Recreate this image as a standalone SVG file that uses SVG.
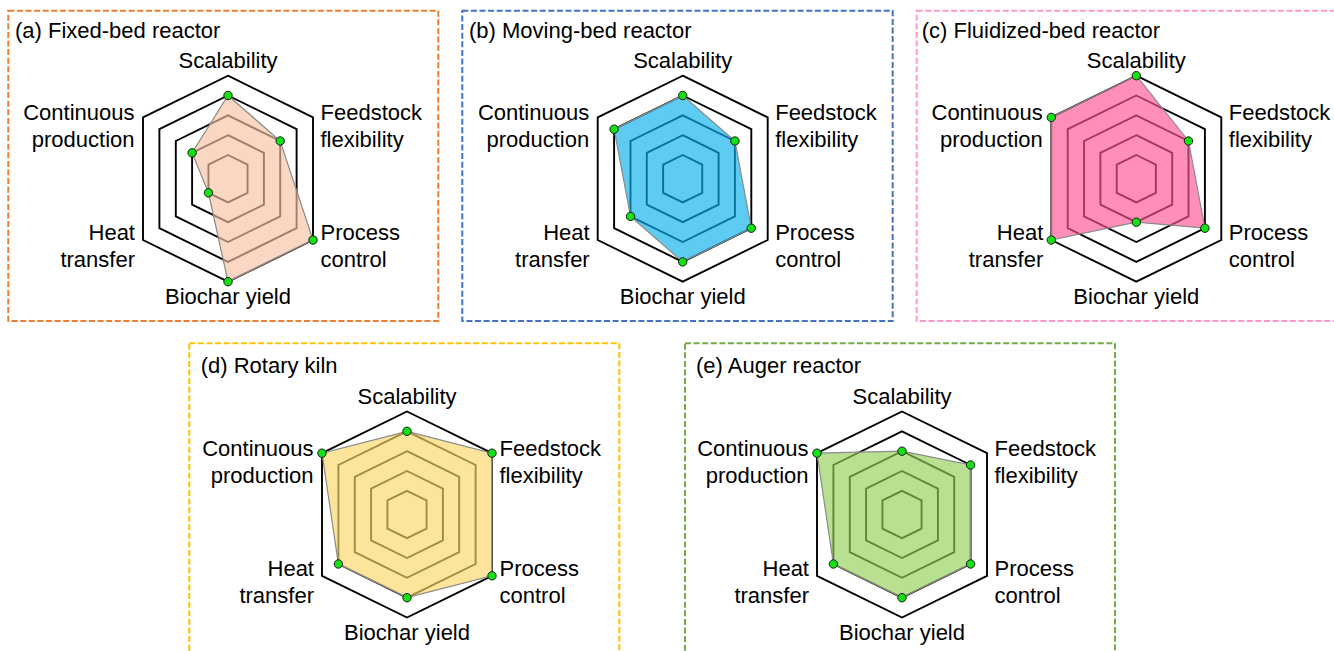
<svg xmlns="http://www.w3.org/2000/svg" xmlns:xlink="http://www.w3.org/1999/xlink" width="1334" height="651" viewBox="0 0 1334 651">
<style>
text{font-family:"Liberation Sans",Arial,sans-serif;font-size:22px;fill:#000}
.m{text-anchor:middle}.e{text-anchor:end}.s{text-anchor:start}
.ring{fill:none;stroke:#000;stroke-width:1.9;stroke-linejoin:miter}
.frame{fill:none;stroke-width:2;stroke-dasharray:6 2.6}
.data{stroke:#8a8a8a;stroke-width:1.2;fill-opacity:0.65}
.dot{fill:#14e014;stroke:#1a1a1a;stroke-width:1}
</style>
<defs>
<g id="grid">
<polygon class="ring" points="0,-23.7 19.55,-14.1 19.55,14.1 0,23.7 -19.55,14.1 -19.55,-14.1"/>
<polygon class="ring" points="0,-43.5 35.9,-25.9 35.9,25.9 0,43.5 -35.9,25.9 -35.9,-25.9"/>
<polygon class="ring" points="0,-63.3 52.2,-37.7 52.2,37.7 0,63.3 -52.2,37.7 -52.2,-37.7"/>
<polygon class="ring" points="0,-83.2 68.6,-49.5 68.6,49.5 0,83.2 -68.6,49.5 -68.6,-49.5"/>
<polygon class="ring" points="0,-103 85,-61.3 85,61.3 0,103 -85,61.3 -85,-61.3"/>
</g>
<g id="labels">
<text class="m" x="0" y="-111">Scalability</text>
<text class="e" x="-93.5" y="-58.5">Continuous</text>
<text class="e" x="-93.5" y="-32">production</text>
<text class="s" x="92.5" y="-58.5">Feedstock</text>
<text class="s" x="92.5" y="-32">flexibility</text>
<text class="e" x="-93" y="61.5">Heat</text>
<text class="e" x="-93" y="88">transfer</text>
<text class="s" x="92.5" y="61.5">Process</text>
<text class="s" x="92.5" y="88">control</text>
<text class="m" x="0" y="125.5">Biochar yield</text>
</g>
</defs>

<g id="connectors"/>

<g id="chart-a">
<rect class="frame" x="8.3" y="10.7" width="430" height="310.3" stroke="#ED7D31"/>
<text x="15" y="37.7">(a) Fixed-bed reactor</text>
<g transform="translate(228,178.7)">
<use xlink:href="#grid"/>
<polygon class="data" fill="#F6C2A3" points="0,-83.2 52.2,-37.7 85,61.3 0,103 -19.55,14.1 -35.9,-25.9"/>
<circle class="dot" cx="0" cy="-83.2" r="4.2"/>
<circle class="dot" cx="52.2" cy="-37.7" r="4.2"/>
<circle class="dot" cx="85" cy="61.3" r="4.2"/>
<circle class="dot" cx="0" cy="103" r="4.2"/>
<circle class="dot" cx="-19.55" cy="14.1" r="4.2"/>
<circle class="dot" cx="-35.9" cy="-25.9" r="4.2"/>
<use xlink:href="#labels"/>
</g>
</g>

<g id="chart-b">
<rect class="frame" x="462.3" y="10.7" width="430.4" height="310.3" stroke="#4472C4"/>
<text x="469" y="37.7">(b) Moving-bed reactor</text>
<g transform="translate(682.7,178.7)">
<use xlink:href="#grid"/>
<polygon class="data" fill="#06AFEB" points="0,-83.2 52.2,-37.7 68.6,49.5 0,83.2 -52.2,37.7 -68.6,-49.5"/>
<circle class="dot" cx="0" cy="-83.2" r="4.2"/>
<circle class="dot" cx="52.2" cy="-37.7" r="4.2"/>
<circle class="dot" cx="68.6" cy="49.5" r="4.2"/>
<circle class="dot" cx="0" cy="83.2" r="4.2"/>
<circle class="dot" cx="-52.2" cy="37.7" r="4.2"/>
<circle class="dot" cx="-68.6" cy="-49.5" r="4.2"/>
<use xlink:href="#labels"/>
</g>
</g>

<g id="chart-c">
<rect class="frame" x="916.7" y="10.7" width="430" height="310.3" stroke="#FF99CC"/>
<text x="921.7" y="37.7">(c) Fluidized-bed reactor</text>
<g transform="translate(1136.3,178.7)">
<use xlink:href="#grid"/>
<polygon class="data" fill="#FF5392" points="0,-103 52.2,-37.7 68.6,49.5 0,43.5 -85,61.3 -85,-61.3"/>
<circle class="dot" cx="0" cy="-103" r="4.2"/>
<circle class="dot" cx="52.2" cy="-37.7" r="4.2"/>
<circle class="dot" cx="68.6" cy="49.5" r="4.2"/>
<circle class="dot" cx="0" cy="43.5" r="4.2"/>
<circle class="dot" cx="-85" cy="61.3" r="4.2"/>
<circle class="dot" cx="-85" cy="-61.3" r="4.2"/>
<use xlink:href="#labels"/>
</g>
</g>

<g id="chart-d">
<rect class="frame" x="189.3" y="343.3" width="430" height="330" stroke="#FFC000"/>
<text x="200.7" y="372.7">(d) Rotary kiln</text>
<g transform="translate(407,514.5)">
<use xlink:href="#grid"/>
<polygon class="data" fill="#FCD665" points="0,-83.2 85,-61.3 85,61.3 0,83.2 -68.6,49.5 -85,-61.3"/>
<circle class="dot" cx="0" cy="-83.2" r="4.2"/>
<circle class="dot" cx="85" cy="-61.3" r="4.2"/>
<circle class="dot" cx="85" cy="61.3" r="4.2"/>
<circle class="dot" cx="0" cy="83.2" r="4.2"/>
<circle class="dot" cx="-68.6" cy="49.5" r="4.2"/>
<circle class="dot" cx="-85" cy="-61.3" r="4.2"/>
<use xlink:href="#labels"/>
</g>
</g>

<g id="chart-e">
<rect class="frame" x="685" y="343.3" width="430" height="330" stroke="#70AD47"/>
<text x="696" y="372.7">(e) Auger reactor</text>
<g transform="translate(902,514.5)">
<use xlink:href="#grid"/>
<polygon class="data" fill="#94CE56" points="0,-63.3 68.6,-49.5 68.6,49.5 0,83.2 -68.6,49.5 -85,-61.3"/>
<circle class="dot" cx="0" cy="-63.3" r="4.2"/>
<circle class="dot" cx="68.6" cy="-49.5" r="4.2"/>
<circle class="dot" cx="68.6" cy="49.5" r="4.2"/>
<circle class="dot" cx="0" cy="83.2" r="4.2"/>
<circle class="dot" cx="-68.6" cy="49.5" r="4.2"/>
<circle class="dot" cx="-85" cy="-61.3" r="4.2"/>
<use xlink:href="#labels"/>
</g>
</g>
</svg>
